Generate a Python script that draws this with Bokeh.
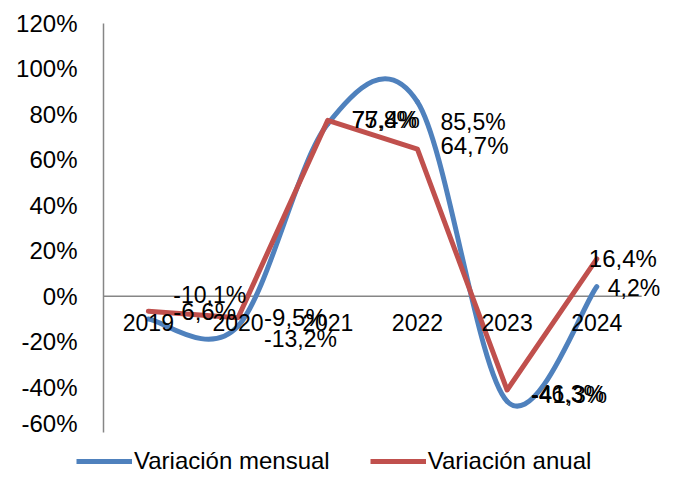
from bokeh.plotting import figure
from bokeh.layouts import column, row
from bokeh.models import (Range1d, FixedTicker, PrintfTickFormatter,
                          ColumnDataSource, Legend, LegendItem)
from bokeh.core.properties import value
from bokeh.embed import file_html
from bokeh.resources import INLINE

# ---- data ----
years = ["2019", "2020", "2021", "2022", "2023", "2024"]
mensual = [-10.1, -13.2, 75.8, 85.5, -46.3, 4.2]
anual = [-6.6, -9.5, 77.4, 64.7, -41.3, 16.4]
y_ticks = [-60, -40, -20, 0, 20, 40, 60, 80, 100, 120]
series_names = ["Variación mensual", "Variación anual"]

# label offsets (screen px) - style only
mensual_dx = [25, 26, 24, 23, 24, 11]
mensual_dy = [-24, 13, -4, 20, -7, 1]
anual_dx = [25, 26, 24, 23, 24, -8]
anual_dy = [0, 0, -1, -4, 4, 0]

FONT = "Liberation Sans"
BLUE = "#4F81BD"
RED = "#C0504D"
AXIS = "#868686"

n = len(years)
xs = [i + 0.5 for i in range(n)]
X_END = n + 0.21   # extra room on the right for the last labels

def fmt(v):
    return f"{v:.1f}".replace(".", ",") + "%"

p = figure(width=660, height=436, output_backend="svg", toolbar_location=None,
           x_range=Range1d(0, X_END), y_range=Range1d(-60, 120),
           x_axis_location=None,
           min_border_left=103, min_border_right=0, min_border_top=23,
           min_border_bottom=4)
p.outline_line_color = None
p.background_fill_color = "white"
p.border_fill_color = "white"
p.xgrid.visible = False
p.ygrid.visible = False

ax = p.yaxis[0]
ax.ticker = FixedTicker(ticks=y_ticks)
ax.formatter = PrintfTickFormatter(format="%d%%")
ax.major_tick_line_color = None
ax.minor_tick_line_color = None
ax.axis_line_color = AXIS
ax.axis_line_width = 1.5
ax.major_label_text_font = FONT
ax.major_label_text_font_size = "24px"
ax.major_label_text_color = "black"
ax.major_label_standoff = 20

# zero (category) axis line across the categories
p.segment(x0=[0], y0=[0], x1=[n], y1=[0], line_color=AXIS, line_width=1.5)

# smoothed blue series via cubic Bezier (Catmull-Rom control points from data)
bx0, by0, bx1, by1, cx0, cy0, cx1, cy1 = [], [], [], [], [], [], [], []
for i in range(n - 1):
    im1 = max(i - 1, 0)
    ip2 = min(i + 2, n - 1)
    bx0.append(xs[i]); by0.append(mensual[i])
    bx1.append(xs[i + 1]); by1.append(mensual[i + 1])
    cx0.append(xs[i] + (xs[i + 1] - xs[im1]) / 6)
    cy0.append(mensual[i] + (mensual[i + 1] - mensual[im1]) / 6)
    cx1.append(xs[i + 1] - (xs[ip2] - xs[i]) / 6)
    cy1.append(mensual[i + 1] - (mensual[ip2] - mensual[i]) / 6)

p.bezier(x0=bx0, y0=by0, x1=bx1, y1=by1, cx0=cx0, cy0=cy0, cx1=cx1, cy1=cy1,
         line_color=BLUE, line_width=5, line_cap="round")
p.line(xs, anual, line_color=RED, line_width=5, line_join="round", line_cap="round")

# category labels at the zero line
p.text(x=xs, y=[0] * n, text=years, text_font=value(FONT), text_font_size="23px",
       text_align="center", text_baseline="middle", y_offset=26, text_color="black")

# data labels
src_m = ColumnDataSource(dict(x=xs, y=mensual, t=[fmt(v) for v in mensual],
                              dx=mensual_dx, dy=mensual_dy))
src_a = ColumnDataSource(dict(x=xs, y=anual, t=[fmt(v) for v in anual],
                              dx=anual_dx, dy=anual_dy))
p.text(x="x", y="y", text="t", x_offset="dx", y_offset="dy", source=src_m,
       text_font=value(FONT), text_font_size="23px", text_align="left",
       text_baseline="middle", text_color="black")
p.text(x="x", y="y", text="t", x_offset="dx", y_offset="dy", source=src_a,
       text_font=value(FONT), text_font_size="24px", text_align="left",
       text_baseline="middle", text_color="black")

# ---- legend strip below the chart ----
lg = figure(width=660, height=39, output_backend="svg", toolbar_location=None,
            x_range=Range1d(0, 1), y_range=Range1d(0, 1),
            x_axis_location=None, y_axis_location=None,
            min_border_left=76, min_border_right=0, min_border_top=0,
            min_border_bottom=0)
lg.outline_line_color = None
lg.xgrid.visible = False
lg.ygrid.visible = False
# legend-sample renderers kept outside the visible range of the strip
lb = lg.line(x=[5, 6], y=[5, 5], line_color=BLUE, line_width=5)
lr = lg.line(x=[5, 6], y=[5, 5], line_color=RED, line_width=5)
legend = Legend(items=[LegendItem(label=series_names[0], renderers=[lb]),
                       LegendItem(label=series_names[1], renderers=[lr])],
                orientation="horizontal", location="bottom_left",
                glyph_width=56, glyph_height=20, label_standoff=2, spacing=40,
                padding=0, margin=0, border_line_color=None,
                background_fill_alpha=0,
                label_text_font=FONT, label_text_font_size="24px",
                label_text_color="black")
lg.add_layout(legend)

layout = column(p, row(lg), spacing=0)
open("out.html", "w").write(file_html(layout, INLINE))
